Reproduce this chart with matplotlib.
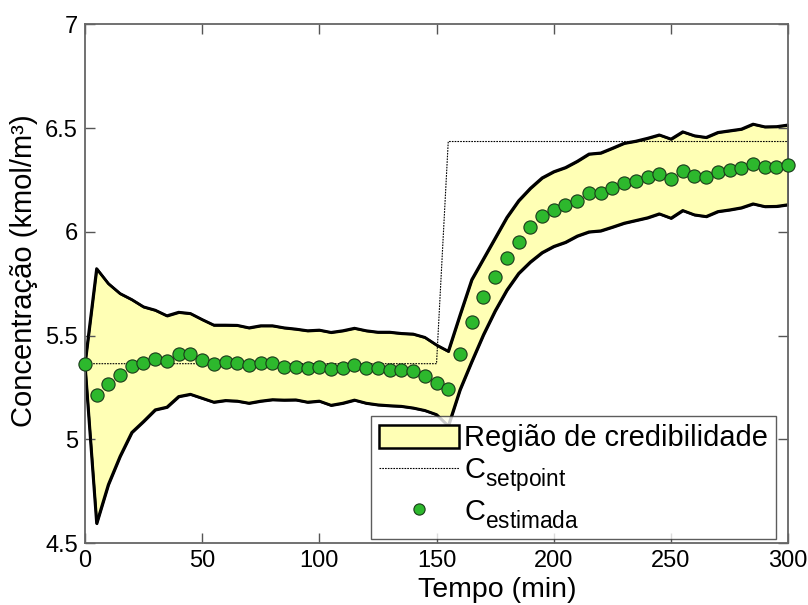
import matplotlib

matplotlib.use("Agg")
import matplotlib.pyplot as plt
import numpy as np
from matplotlib import _mathtext

plt.rcParams["font.family"] = ["Liberation Sans", "DejaVu Sans"]
plt.rcParams["mathtext.fontset"] = "custom"
plt.rcParams["mathtext.rm"] = "Liberation Sans"
plt.rcParams["mathtext.it"] = "Liberation Sans"

# MATLAB-style subscripts: a bit larger and dropped lower than mathtext's default
_mathtext.SHRINK_FACTOR = 0.78
_mathtext.FontConstantsBase.sub1 = 0.5

tempo = np.arange(0, 301, 5)

c_estimada = [
    5.362, 5.212, 5.266, 5.312, 5.354, 5.367, 5.389, 5.378, 5.410, 5.413,
    5.384, 5.365, 5.372, 5.370, 5.357, 5.370, 5.370, 5.351, 5.351, 5.343,
    5.348, 5.337, 5.346, 5.359, 5.346, 5.346, 5.335, 5.335, 5.330, 5.306,
    5.271, 5.244, 5.412, 5.567, 5.687, 5.783, 5.872, 5.952, 6.023, 6.075,
    6.106, 6.127, 6.149, 6.189, 6.186, 6.210, 6.234, 6.243, 6.262, 6.279,
    6.256, 6.291, 6.271, 6.264, 6.290, 6.298, 6.308, 6.328, 6.310, 6.310,
    6.323,
]

limite_sup = [
    5.362, 5.823, 5.751, 5.703, 5.674, 5.639, 5.623, 5.596, 5.613, 5.607,
    5.578, 5.551, 5.551, 5.550, 5.538, 5.548, 5.548, 5.538, 5.532, 5.524,
    5.527, 5.516, 5.524, 5.536, 5.524, 5.517, 5.517, 5.511, 5.508, 5.492,
    5.455, 5.425, 5.600, 5.770, 5.870, 5.970, 6.070, 6.150, 6.210, 6.260,
    6.290, 6.310, 6.340, 6.375, 6.380, 6.403, 6.427, 6.437, 6.451, 6.467,
    6.447, 6.482, 6.463, 6.455, 6.479, 6.487, 6.495, 6.519, 6.506, 6.507,
    6.515,
]

limite_inf = [
    5.362, 4.596, 4.783, 4.919, 5.034, 5.087, 5.143, 5.156, 5.207, 5.218,
    5.199, 5.180, 5.188, 5.185, 5.175, 5.185, 5.192, 5.190, 5.191, 5.180,
    5.185, 5.165, 5.175, 5.190, 5.175, 5.167, 5.163, 5.160, 5.152, 5.140,
    5.120, 5.065, 5.240, 5.375, 5.505, 5.620, 5.720, 5.800, 5.855, 5.900,
    5.930, 5.950, 5.980, 6.000, 6.005, 6.023, 6.042, 6.055, 6.068, 6.087,
    6.066, 6.103, 6.082, 6.074, 6.098, 6.106, 6.116, 6.135, 6.122, 6.123,
    6.131,
]

c_setpoint = [5.365] * 31 + [6.435] * 30

fig = plt.figure(figsize=(8.08, 6.05), dpi=100)
ax = fig.add_axes([0.105, 0.102, 0.8705, 0.858])

ax.fill_between(tempo, limite_inf, limite_sup, facecolor="#ffffb5",
                edgecolor="none", label="Região de credibilidade", zorder=1)
ax.plot(tempo, limite_sup, color="black", lw=2.0, zorder=2)
ax.plot(tempo, limite_inf, color="black", lw=2.0, zorder=2)
ax.plot(tempo, c_setpoint, color="black", lw=0.8, ls=(0, (1.5, 1.0)),
        label=r"C$_{\mathrm{setpoint}}$", zorder=3)
ax.plot(tempo, c_estimada, ls="none", marker="o", ms=9.5,
        markerfacecolor="#2db82d", markeredgecolor="#1a3a1a", markeredgewidth=0.8,
        label=r"C$_{\mathrm{estimada}}$", zorder=4, clip_on=False)

# legend patch needs a black edge, like the bounding curves
handles, labels = ax.get_legend_handles_labels()
handles[0].set_edgecolor("black")
handles[0].set_linewidth(1.8)

leg = ax.legend(handles, labels, loc="lower right", bbox_to_anchor=(0.983, 0.009),
                fontsize=20.9, frameon=True, fancybox=False, edgecolor="#333333",
                borderaxespad=0.0, handlelength=2.75, handleheight=0.85,
                labelspacing=0.14, handletextpad=0.15, borderpad=0.3,
                markerscale=0.85)
leg.get_frame().set_linewidth(1.0)
leg.set_zorder(10)

ax.set_xlim(0, 300)
ax.set_ylim(4.5, 7)
ax.set_xticks(np.arange(0, 301, 50))
ax.set_yticks([4.5, 5, 5.5, 6, 6.5, 7])
ax.set_yticklabels(["4.5", "5", "5.5", "6", "6.5", "7"])
ax.tick_params(direction="in", length=7, width=1.0, labelsize=17,
               top=True, right=True, color="#555555", pad=5)
for spine in ax.spines.values():
    spine.set_color("#666666")
    spine.set_linewidth(1.3)

ax.set_xlabel("Tempo (min)", fontsize=20.5, labelpad=1)
ax.xaxis.set_label_coords(0.587, -0.065)
ax.set_ylabel("Concentração (kmol/m³)", fontsize=21, labelpad=6)
ax.yaxis.set_label_coords(-0.066, 0.525)

fig.savefig("out.png", dpi=100, facecolor="white")
plt.close(fig)
